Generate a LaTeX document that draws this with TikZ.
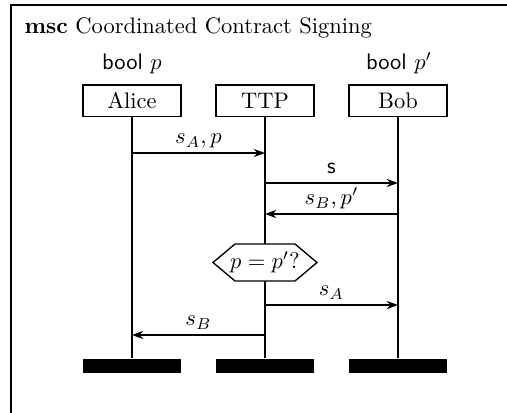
\documentclass[tikz,border=0pt]{standalone}
\usetikzlibrary{arrows.meta,calc}
\begin{document}
\begin{tikzpicture}[x=0.4444pt,y=-0.4444pt,
  every node/.style={font=\fontsize{10}{12}\selectfont},
  line width=0.6pt,
  instbox/.style={draw,minimum width=43.6pt,minimum height=14pt,inner sep=0pt},
  instend/.style={fill=black,minimum width=43.6pt,minimum height=6.2pt,inner sep=0pt},
  lifeline/.style={line width=0.6pt},
  msg/.style={-{Stealth[length=5pt,width=3.6pt,inset=1.6pt]}},
  msglabel/.style={midway,anchor=base,yshift=4.1pt,inner sep=0pt},
  condition/.style={inner sep=0pt,minimum width=26pt,minimum height=16.4pt}]
\useasboundingbox (0,0) rectangle (507,412);

% msc frame (extends past the page on the right and bottom)
\draw (11,5) rectangle (560,470);
\node[anchor=base west,inner sep=0pt] (title) at (24,33) {\textbf{msc} Coordinated Contract Signing};

% instance headers
\node[anchor=base,inner sep=0pt] (alicevar) at (132,69.5) {\textsf{bool} $p$};
\node[anchor=base,inner sep=0pt] (bobvar) at (399,69.5) {\textsf{bool} $p'$};
\node[instbox] (alice) at (132,100.8) {Alice};
\node[instbox] (ttp) at (265,100.8) {TTP};
\node[instbox] (bob) at (398,100.8) {Bob};

% instance ends
\node[instend,anchor=north] (aliceend) at (132,358) {};
\node[instend,anchor=north] (ttpend) at (265,358) {};
\node[instend,anchor=north] (bobend) at (398,358) {};

% lifelines
\draw[lifeline] (alice.south) -- (aliceend.north);
\draw[lifeline] (ttp.south) -- (ttpend.north);
\draw[lifeline] (bob.south) -- (bobend.north);

% message end points
\coordinate (a1) at (132,153);
\coordinate (t1) at (265,153);
\coordinate (t2) at (265,183);
\coordinate (b2) at (398,183);
\coordinate (b3) at (398,214);
\coordinate (t3) at (265,214);
\coordinate (t4) at (265,305);
\coordinate (b4) at (398,305);
\coordinate (t5) at (265,335);
\coordinate (a5) at (132,335);

% messages
\draw[msg] (a1) -- node[msglabel] {$s_A,p$} (t1);
\draw[msg] (t2) -- node[msglabel] {\textsf{s}} (b2);
\draw[msg] (b3) -- node[msglabel] {$s_B,p'$} (t3);
\draw[msg] (t4) -- node[msglabel] {$s_A$} (b4);
\draw[msg] (t5) -- node[msglabel] {$s_B$} (a5);

% condition on the TTP instance: hexagon with pointed sides
\node[condition] (check) at (265,262.5) {};
\filldraw[fill=white,line join=miter]
  ($(check.center)+(-52,0)$) -- ($(check.center)+(-30,-18.5)$) --
  ($(check.center)+(30,-18.5)$) -- ($(check.center)+(52,0)$) --
  ($(check.center)+(30,18.5)$) -- ($(check.center)+(-30,18.5)$) -- cycle;
\node[inner sep=0pt] at (check.center) {$p=p'?$};
\end{tikzpicture}
\end{document}
